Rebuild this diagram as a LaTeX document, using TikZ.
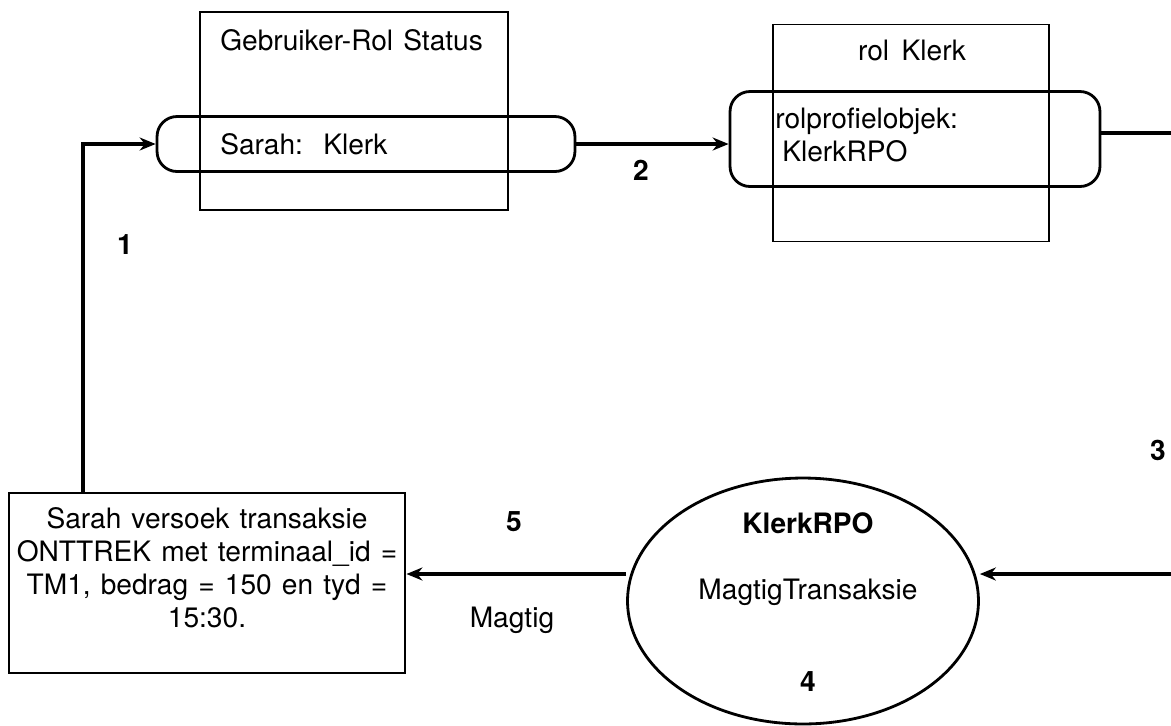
\documentclass[tikz,border=0pt]{standalone}
\usepackage{fontspec}
\setmainfont{TeX Gyre Heros}
\usepackage{tikz}
\usetikzlibrary{positioning,calc,shapes.geometric,arrows.meta}
\newcommand\wydspasie{\spaceskip=0.36em\relax}
\tikzset{
    statusbox/.style={rectangle, draw, line width=1.1pt, inner sep=0pt},
    rolbar/.style={rectangle, rounded corners=0.4cm, draw, line width=1.6pt, inner sep=0pt},
    flow/.style={draw, line width=1.8pt, -{Stealth[length=3.2mm, width=2.6mm]}},
    txt/.style={font=\fontsize{16}{18.8}\selectfont, execute at begin node=\wydspasie, inner sep=0pt},
    stap/.style={font=\fontsize{16}{18.8}\selectfont\bfseries, inner sep=0pt}
}

\begin{document}
\begin{tikzpicture}[x=0.02cm, y=-0.02cm]
    % --- RAAM ---
    \useasboundingbox (0,0) rectangle (1171,725);
    \clip (0,0) rectangle (1171,725);

    % --- GEBRUIKER-ROL STATUS ---
    \node[statusbox, minimum width=6.16cm, minimum height=3.96cm] (gebr) at (354,111) {};
    \node[txt, anchor=west] (gebrtitel) at (220,40) {Gebruiker-Rol Status};
    \node[rolbar, minimum width=8.36cm, minimum height=1.1cm] (bar1) at (366,144) {};
    \node[txt, anchor=west] (sarah) at (220,144) {Sarah:\ \ Klerk};

    % --- ROL KLERK ---
    \node[statusbox, minimum width=5.52cm, minimum height=4.34cm] (rol) at (911,133) {};
    \node[txt] (roltitel) at (912,50) {rol\ \hspace{0.05cm}Klerk};
    \node[rolbar, minimum width=7.4cm, minimum height=1.9cm] (bar2) at (915,139) {};
    \node[txt, anchor=north west, align=left] (rpo) at (775,108) {rolprofielobjek:\\\hspace{0.14cm}KlerkRPO};

    % --- KLERKRPO PROSES ---
    \node[ellipse, draw, line width=1.6pt, minimum width=7.02cm, minimum height=4.92cm, inner sep=0pt] (proses) at (803,601) {};
    \node[stap] (prosnaam) at (808,523) {KlerkRPO};
    \node[txt] (prosfunk) at (808,592) {MagtigTransaksie};

    % --- VERSOEK ---
    \node[statusbox, minimum width=7.94cm, minimum height=3.6cm] (versoek) at (207,583) {};
    \node[txt, align=center, anchor=north] (versoektxt) at (207,507) {Sarah versoek transaksie\\ONTTREK met terminaal\_id =\\TM1, bedrag = 150 en tyd =\\15:30.};

    % --- VERBINDINGS ---
    \coordinate (regs) at (1173,133);
    \draw[flow] (versoek.north -| 83,0) |- (bar1.west);
    \draw[flow] (bar1.east) -- (bar1.east -| bar2.west);
    \draw[flow] (bar2.east |- regs) -- (regs) |- (proses.east |- 0,574);
    \draw[flow] (proses.west |- 0,574) -- (versoek.east |- 0,574);

    % --- STAPPE ---
    \node[stap] (s1) at (125,245) {1};
    \node[stap] (s2) at (641,170) {2};
    \node[stap] (s3) at (1158,450) {3};
    \node[stap] (s4) at (808,682) {4};
    \node[stap] (s5) at (514,522) {5};
    \node[txt] (magtig) at (512,620) {Magtig};
\end{tikzpicture}
\end{document}
